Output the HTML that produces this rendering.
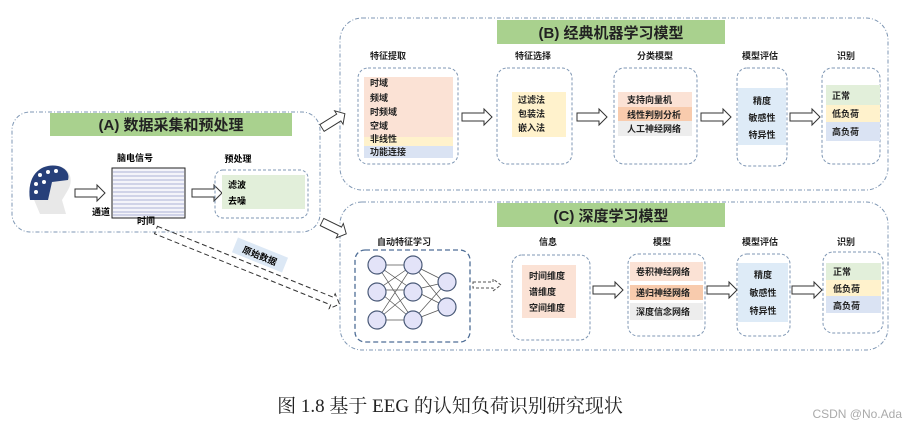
<!DOCTYPE html>
<html><head><meta charset="utf-8"><style>
html,body{margin:0;padding:0;background:#fff;}
svg{display:block;font-family:"Liberation Sans","Noto Sans CJK SC",sans-serif;}
</style></head><body>
<svg width="906" height="428" viewBox="0 0 906 428" xmlns="http://www.w3.org/2000/svg">
<defs>
<g id="arr"><polygon points="0,-4 22,-4 22,-8 30,0 22,8 22,4 0,4" fill="#fff" stroke="#333" stroke-width="1"/></g>
</defs>
<g fill="none" stroke="#7f97b4" stroke-width="1" stroke-dasharray="4,2,1,2">
<rect x="12" y="112" width="308" height="120" rx="18"/>
<rect x="340" y="18" width="548" height="172" rx="22"/>
<rect x="340" y="202" width="548" height="148" rx="22"/>
</g>
<rect x="50" y="113" width="242" height="23" fill="#a9d18e"/>
<text x="171" y="130" font-size="15" font-weight="bold" text-anchor="middle" fill="#222">(A) 数据采集和预处理</text>
<rect x="497" y="20" width="228" height="24" fill="#a9d18e"/>
<text x="611" y="38" font-size="15" font-weight="bold" text-anchor="middle" fill="#222">(B) 经典机器学习模型</text>
<rect x="497" y="203" width="228" height="24" fill="#a9d18e"/>
<text x="611" y="221" font-size="15" font-weight="bold" text-anchor="middle" fill="#222">(C) 深度学习模型</text>

<!-- head -->
<path d="M32,195 C28,170 45,163 58,166 C70,168 74,180 68,190 L62,200 L66,214 L40,214 Z" fill="#e8e8e8"/>
<path d="M30,200 C26,172 44,163 58,166 C66,168 70,174 68,180 L52,182 L48,200 Z" fill="#27407a"/>
<g fill="#fff"><circle cx="40" cy="175" r="2"/><circle cx="48" cy="172" r="2"/><circle cx="56" cy="171" r="2"/><circle cx="36" cy="184" r="2"/><circle cx="44" cy="182" r="2"/><circle cx="36" cy="192" r="2"/></g>
<use href="#arr" x="75" y="193"/>
<!-- EEG -->
<rect x="112" y="168" width="73" height="50" fill="#f4f4fa" stroke="#222" stroke-width="1"/>
<g stroke="#6670b0" stroke-width="0.6" fill="none">
<path d="M113,172 h71 M113,176 h71 M113,180 h71 M113,184 h71 M113,188 h71 M113,192 h71 M113,196 h71 M113,200 h71 M113,204 h71 M113,208 h71 M113,212 h71 M113,215 h71"/>
</g>
<text x="135" y="161" font-size="9" font-weight="bold" text-anchor="middle">脑电信号</text>
<text x="101" y="215" font-size="9" font-weight="bold" text-anchor="middle">通道</text>
<text x="146" y="224" font-size="9" font-weight="bold" text-anchor="middle">时间</text>
<use href="#arr" x="192" y="193"/>
<text x="238" y="162" font-size="9" font-weight="bold" text-anchor="middle">预处理</text>
<rect x="215" y="170" width="93" height="48" rx="8" fill="none" stroke="#7f97b4" stroke-dasharray="3,2"/>
<rect x="222" y="175" width="83" height="34" fill="#e2efda"/>
<text x="228" y="188" font-size="9" font-weight="bold">滤波</text>
<text x="228" y="204" font-size="9" font-weight="bold">去噪</text>

<!-- A->B, A->C arrows -->
<use href="#arr" transform="translate(322,128) rotate(-32) scale(0.9,1)"/>
<use href="#arr" transform="translate(322,222) rotate(26) scale(0.9,1)"/>
<!-- dashed raw data arrow -->
<polygon points="0,-4 190,-4 190,-8 198,0 190,8 190,4 0,4" transform="translate(156,230) rotate(22)" fill="none" stroke="#333" stroke-dasharray="5,3"/>
<rect x="-27" y="-8" width="54" height="16" fill="#dce8f5" transform="translate(260,255) rotate(22)"/>
<text x="0" y="4" font-size="9" font-weight="bold" text-anchor="middle" transform="translate(260,255) rotate(22)">原始数据</text>

<!-- B section -->
<g font-size="9" font-weight="bold" fill="#222">
<g text-anchor="middle"><text x="388" y="59">特征提取</text><text x="533" y="59">特征选择</text><text x="655" y="59">分类模型</text><text x="760" y="59">模型评估</text><text x="846" y="59">识别</text></g>
<g fill="none" stroke="#7f97b4" stroke-dasharray="3,2">
<rect x="358" y="68" width="100" height="96" rx="10"/>
<rect x="497" y="68" width="75" height="96" rx="10"/>
<rect x="614" y="68" width="83" height="96" rx="10"/>
<rect x="737" y="68" width="50" height="98" rx="10"/>
<rect x="822" y="68" width="58" height="96" rx="10"/>
</g>
<rect x="364" y="77" width="89" height="60" fill="#fbe2d5"/>
<rect x="364" y="137" width="89" height="10" fill="#fff2cc"/>
<rect x="364" y="146" width="89" height="12" fill="#dae3f3"/>
<text x="370" y="86">时域</text><text x="370" y="101">频域</text><text x="370" y="115">时频域</text><text x="370" y="129">空域</text><text x="370" y="142">非线性</text><text x="370" y="155">功能连接</text>
<use href="#arr" x="462" y="117"/>
<rect x="512" y="92" width="54" height="45" fill="#fff2cc"/>
<text x="518" y="103">过滤法</text><text x="518" y="117">包装法</text><text x="518" y="131">嵌入法</text>
<use href="#arr" x="577" y="117"/>
<rect x="618" y="92" width="74" height="15" fill="#fbe2d5"/>
<rect x="618" y="107" width="74" height="14" fill="#f8cbad"/>
<rect x="618" y="121" width="74" height="15" fill="#ededed"/>
<text x="627" y="103">支持向量机</text><text x="627" y="118">线性判别分析</text><text x="627" y="132">人工神经网络</text>
<use href="#arr" x="701" y="117"/>
<rect x="738" y="88" width="48" height="57" fill="#deebf7"/>
<g text-anchor="middle"><text x="762" y="104">精度</text><text x="762" y="121">敏感性</text><text x="762" y="138">特异性</text></g>
<use href="#arr" x="790" y="117"/>
<rect x="826" y="85" width="54" height="20" fill="#e2efda"/>
<rect x="826" y="105" width="54" height="17" fill="#fff2cc"/>
<rect x="826" y="122" width="54" height="19" fill="#dae3f3"/>
<text x="832" y="99">正常</text><text x="832" y="117">低负荷</text><text x="832" y="135">高负荷</text>
</g>

<!-- C section -->
<g font-size="9" font-weight="bold" fill="#222">
<g text-anchor="middle"><text x="404" y="245">自动特征学习</text><text x="548" y="245">信息</text><text x="662" y="245">模型</text><text x="760" y="245">模型评估</text><text x="846" y="245">识别</text></g>
<rect x="355" y="250" width="115" height="92" rx="10" fill="none" stroke="#4f6e96" stroke-width="1.3" stroke-dasharray="5,3"/>
<g fill="none" stroke="#7f97b4" stroke-dasharray="3,2">
<rect x="512" y="255" width="78" height="85" rx="10"/>
<rect x="628" y="254" width="77" height="82" rx="10"/>
<rect x="737" y="254" width="53" height="82" rx="10"/>
<rect x="823" y="252" width="60" height="81" rx="10"/>
</g>
<g stroke="#555" stroke-width="0.7">
<path d="M377,265 L413,265 M377,265 L413,290 M377,265 L413,320 M377,290 L413,265 M377,290 L413,290 M377,290 L413,320 M377,320 L413,265 M377,320 L413,290 M377,320 L413,320 M413,265 L447,282 M413,265 L447,307 M413,290 L447,282 M413,290 L447,307 M413,320 L447,282 M413,320 L447,307"/>
</g>
<g fill="#e3e3f8" stroke="#4a5a78" stroke-width="1.2">
<circle cx="377" cy="265" r="9"/><circle cx="377" cy="292" r="9"/><circle cx="377" cy="320" r="9"/>
<circle cx="413" cy="265" r="9"/><circle cx="413" cy="292" r="9"/><circle cx="413" cy="320" r="9"/>
<circle cx="447" cy="282" r="9"/><circle cx="447" cy="307" r="9"/>
</g>
<polygon points="0,-3 20,-3 20,-6 28,0 20,6 20,3 0,3" transform="translate(473,285)" fill="#fff" stroke="#555" stroke-dasharray="3,2"/>
<rect x="522" y="265" width="54" height="53" fill="#fbe2d5"/>
<text x="529" y="279">时间维度</text><text x="529" y="295">谱维度</text><text x="529" y="311">空间维度</text>
<use href="#arr" x="593" y="290"/>
<rect x="630" y="262" width="73" height="19" fill="#fbe2d5"/>
<rect x="630" y="285" width="73" height="15" fill="#f8cbad"/>
<rect x="630" y="303" width="73" height="17" fill="#ededed"/>
<text x="636" y="275">卷积神经网络</text><text x="636" y="296">递归神经网络</text><text x="636" y="315">深度信念网络</text>
<use href="#arr" x="707" y="290"/>
<rect x="738" y="263" width="50" height="59" fill="#deebf7"/>
<g text-anchor="middle"><text x="763" y="278">精度</text><text x="763" y="296">敏感性</text><text x="763" y="314">特异性</text></g>
<use href="#arr" x="792" y="290"/>
<rect x="826" y="263" width="55" height="17" fill="#e2efda"/>
<rect x="826" y="280" width="55" height="16" fill="#fff2cc"/>
<rect x="826" y="296" width="55" height="17" fill="#dae3f3"/>
<text x="833" y="275">正常</text><text x="833" y="292">低负荷</text><text x="833" y="309">高负荷</text>
</g>

<text x="450" y="412" font-size="19" text-anchor="middle" font-family="Liberation Serif,'Noto Serif CJK SC',serif" fill="#222">图 1.8 基于 EEG 的认知负荷识别研究现状</text>
<text x="902" y="418" font-size="12" text-anchor="end" fill="#aaa">CSDN @No.Ada</text>
</svg>
</body></html>
